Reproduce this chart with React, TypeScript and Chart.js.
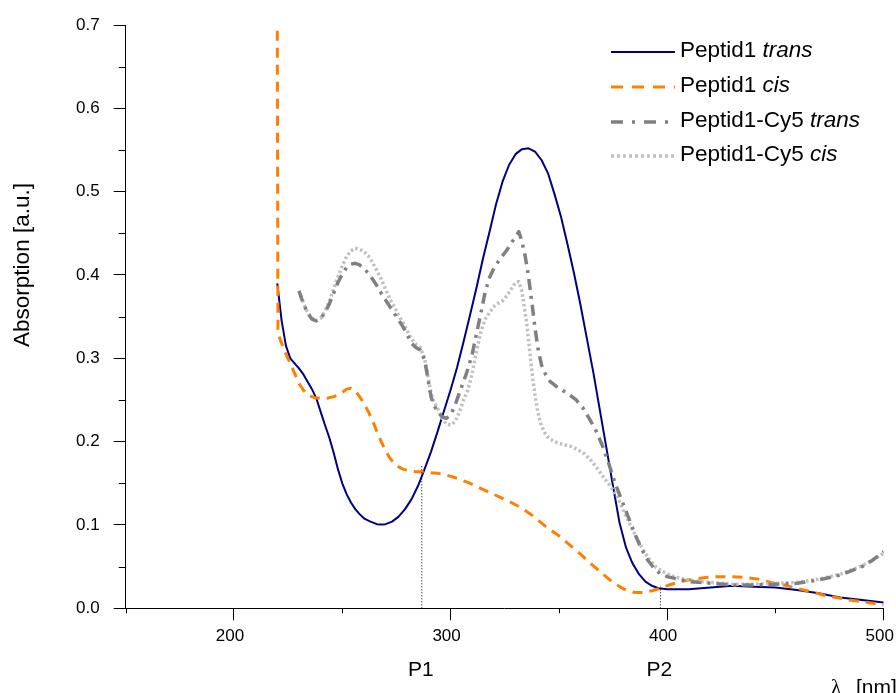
import React, { useEffect, useRef } from 'react';
import { Chart, registerables } from 'chart.js';

Chart.register(...registerables);

// ---------- data ----------
const transLambda = [220, 222, 224, 226, 228, 230, 232, 234, 236, 238, 240, 242, 244, 246, 248, 250, 252, 254, 256, 258, 260, 263, 266, 268, 270, 273, 276, 279, 282, 285, 288, 291, 294, 297, 300, 303, 306, 309, 312, 315, 318, 321, 324, 327, 330, 333, 336, 339, 342, 345, 348, 351, 354, 357, 360, 363, 366, 369, 372, 375, 378, 381, 384, 387, 390, 393, 396, 400, 410, 420, 430, 440, 450, 460, 470, 480, 490, 500];
const transAbs = [0.39, 0.345, 0.315, 0.300, 0.294, 0.288, 0.281, 0.272, 0.263, 0.252, 0.236, 0.220, 0.205, 0.187, 0.167, 0.150, 0.137, 0.127, 0.119, 0.113, 0.108, 0.104, 0.101, 0.1005, 0.101, 0.104, 0.110, 0.119, 0.131, 0.147, 0.167, 0.188, 0.212, 0.237, 0.262, 0.289, 0.320, 0.352, 0.385, 0.420, 0.452, 0.485, 0.512, 0.532, 0.545, 0.551, 0.552, 0.548, 0.538, 0.522, 0.497, 0.470, 0.437, 0.402, 0.364, 0.323, 0.282, 0.237, 0.192, 0.147, 0.103, 0.073, 0.054, 0.041, 0.032, 0.027, 0.024, 0.023, 0.023, 0.025, 0.027, 0.026, 0.025, 0.022, 0.018, 0.013, 0.010, 0.007];

const cisLambda = [220, 220.3, 222, 224, 226, 228, 230, 232, 234, 237, 240, 243, 246, 249, 252, 254, 256, 258, 260, 262, 264, 266, 268, 270, 272, 275, 278, 281, 284, 287, 290, 294, 298, 303, 308, 313, 318, 323, 328, 333, 338, 344, 350, 355, 360, 365, 370, 375, 380, 385, 389, 393, 397, 401, 406, 412, 418, 424, 430, 436, 442, 448, 454, 460, 466, 472, 478, 484, 490, 495, 500];
const cisAbs = [0.693, 0.33, 0.318, 0.305, 0.294, 0.282, 0.270, 0.262, 0.256, 0.253, 0.252, 0.252, 0.254, 0.257, 0.263, 0.264, 0.261, 0.254, 0.246, 0.236, 0.225, 0.212, 0.200, 0.189, 0.180, 0.171, 0.167, 0.165, 0.164, 0.164, 0.163, 0.162, 0.160, 0.156, 0.151, 0.145, 0.139, 0.133, 0.127, 0.120, 0.111, 0.098, 0.087, 0.076, 0.065, 0.053, 0.042, 0.031, 0.023, 0.019, 0.019, 0.021, 0.024, 0.028, 0.032, 0.035, 0.037, 0.038, 0.038, 0.037, 0.035, 0.031, 0.028, 0.024, 0.020, 0.016, 0.013, 0.010, 0.008, 0.006, 0.004];

const cy5TransLambda = [230, 232, 234, 236, 238, 240, 242, 244, 246, 248, 250, 252, 254, 256, 258, 260, 262, 264, 266, 268, 270, 272, 274, 276, 278, 280, 282, 284, 286, 288, 289, 290, 291, 292, 294, 296, 298, 300, 302, 304, 306, 308, 310, 312, 314, 316, 318, 320, 322, 324, 326, 328, 330, 331.5, 333, 334.5, 336, 337.5, 339, 340.5, 342, 344, 346, 348, 350, 352, 355, 358, 361, 364, 367, 370, 373, 376, 379, 382, 385, 388, 391, 394, 397, 400, 405, 410, 420, 430, 440, 450, 460, 470, 480, 490, 495, 500];
const cy5TransAbs = [0.381, 0.366, 0.354, 0.347, 0.345, 0.348, 0.355, 0.365, 0.378, 0.391, 0.401, 0.409, 0.413, 0.414, 0.412, 0.408, 0.402, 0.395, 0.387, 0.378, 0.370, 0.362, 0.354, 0.346, 0.338, 0.328, 0.318, 0.313, 0.310, 0.298, 0.284, 0.268, 0.254, 0.245, 0.236, 0.230, 0.228, 0.232, 0.243, 0.258, 0.272, 0.287, 0.305, 0.330, 0.354, 0.380, 0.397, 0.408, 0.416, 0.423, 0.430, 0.438, 0.446, 0.452, 0.440, 0.422, 0.398, 0.368, 0.336, 0.310, 0.292, 0.280, 0.272, 0.268, 0.264, 0.261, 0.256, 0.250, 0.241, 0.228, 0.214, 0.196, 0.174, 0.150, 0.130, 0.110, 0.090, 0.072, 0.058, 0.048, 0.041, 0.038, 0.035, 0.032, 0.030, 0.028, 0.028, 0.029, 0.030, 0.034, 0.040, 0.050, 0.058, 0.068];

const cy5CisLambda = [230, 232, 234, 236, 238, 240, 242, 244, 246, 248, 250, 252, 254, 256, 258, 260, 262, 264, 266, 268, 270, 272, 274, 276, 278, 280, 282, 284, 286, 288, 289, 290, 291, 292, 294, 296, 298, 300, 302, 304, 306, 308, 310, 312, 314, 316, 318, 320, 322, 324, 326, 328, 330, 331.5, 333, 334, 335, 336, 337, 338, 339, 340, 341, 342, 344, 346, 348, 350, 353, 356, 359, 362, 365, 368, 371, 374, 377, 380, 383, 386, 389, 392, 395, 398, 402, 406, 412, 420, 430, 440, 450, 460, 470, 480, 490, 495, 500];
const cy5CisAbs = [0.381, 0.367, 0.355, 0.348, 0.345, 0.348, 0.356, 0.368, 0.383, 0.398, 0.411, 0.422, 0.429, 0.432, 0.431, 0.428, 0.423, 0.415, 0.405, 0.395, 0.383, 0.371, 0.362, 0.352, 0.343, 0.333, 0.323, 0.317, 0.313, 0.300, 0.287, 0.272, 0.258, 0.250, 0.240, 0.229, 0.221, 0.220, 0.224, 0.235, 0.250, 0.262, 0.282, 0.309, 0.332, 0.347, 0.355, 0.362, 0.366, 0.369, 0.375, 0.383, 0.391, 0.392, 0.380, 0.362, 0.345, 0.322, 0.298, 0.275, 0.256, 0.240, 0.228, 0.219, 0.208, 0.203, 0.200, 0.198, 0.196, 0.194, 0.190, 0.185, 0.177, 0.167, 0.156, 0.146, 0.134, 0.116, 0.100, 0.084, 0.070, 0.058, 0.049, 0.044, 0.039, 0.036, 0.033, 0.031, 0.029, 0.029, 0.030, 0.031, 0.035, 0.041, 0.051, 0.058, 0.066];

// isosbestic markers
const markerLabels = ['P1', 'P2'];
const markerLambda = [286.7, 396.9];
const markerAbs = [0.172, 0.026];

// axes ticks
const xMajorTicks = [200, 300, 400, 500];
const xMinorTicks = [150, 250, 350, 450];
const yMajorTicks = [0, 0.1, 0.2, 0.3, 0.4, 0.5, 0.6, 0.7];
const yMinorTicks = [0.05, 0.15, 0.25, 0.35, 0.45, 0.55, 0.65];

const seriesNames = ['Peptid1', 'Peptid1', 'Peptid1-Cy5', 'Peptid1-Cy5'];
const seriesForms = ['trans', 'cis', 'trans', 'cis'];

const FONT = "'Liberation Sans', Arial, sans-serif";

const toPoints = (xs: number[], ys: number[]) => xs.map((x, i) => ({ x, y: ys[i] }));

const decorPlugin = {
  id: 'decor',
  afterDraw(chart: any) {
    const { ctx, chartArea } = chart;
    const x = chart.scales.x;
    const y = chart.scales.y;
    ctx.save();
    // minor ticks
    ctx.strokeStyle = '#000';
    ctx.lineWidth = 1;
    xMinorTicks.forEach((v) => {
      const px = Math.round(x.getPixelForValue(v)) + 0.5;
      ctx.beginPath();
      ctx.moveTo(px, chartArea.bottom);
      ctx.lineTo(px, chartArea.bottom + 5);
      ctx.stroke();
    });
    yMinorTicks.forEach((v) => {
      const py = Math.round(y.getPixelForValue(v)) + 0.5;
      ctx.beginPath();
      ctx.moveTo(chartArea.left - 7, py);
      ctx.lineTo(chartArea.left, py);
      ctx.stroke();
    });

    // y title
    ctx.fillStyle = '#000';
    ctx.font = `22.5px ${FONT}`;
    ctx.save();
    ctx.translate(23, 265);
    ctx.rotate(-Math.PI / 2);
    ctx.textAlign = 'center';
    ctx.textBaseline = 'middle';
    ctx.fillText('Absorption [a.u.]', 0, 0);
    ctx.restore();

    // x title
    ctx.textAlign = 'left';
    ctx.textBaseline = 'alphabetic';
    ctx.font = `21px 'Liberation Serif', serif`;
    ctx.fillText('λ', 831, 694);
    ctx.font = `21px ${FONT}`;
    ctx.fillText('[nm]', 856, 694);

    // marker labels
    ctx.textAlign = 'center';
    markerLabels.forEach((lab, i) => {
      ctx.fillText(lab, x.getPixelForValue(markerLambda[i]) - 1, 676);
    });

    // legend
    const lx0 = 611;
    const lx1 = 675;
    const ys = [52, 87, 122, 156];
    chart.data.datasets.slice(0, 4).forEach((ds: any, i: number) => {
      const ly = ys[i];
      ctx.save();
      ctx.strokeStyle = ds.borderColor;
      ctx.lineWidth = ds.borderWidth;
      ctx.setLineDash(ds.legendDash || []);
      ctx.beginPath();
      ctx.moveTo(lx0, ly);
      ctx.lineTo(lx1, ly);
      ctx.stroke();
      ctx.restore();
      ctx.textAlign = 'left';
      ctx.textBaseline = 'alphabetic';
      ctx.font = `22.5px ${FONT}`;
      const base = seriesNames[i] + ' ';
      ctx.fillText(base, 680, ly + 5);
      const w = ctx.measureText(base).width;
      ctx.font = `italic 22.5px ${FONT}`;
      ctx.fillText(seriesForms[i], 680 + w, ly + 5);
    });
    ctx.restore();
  },
};

export default function App() {
  const canvasRef = useRef<HTMLCanvasElement | null>(null);

  useEffect(() => {
    if (!canvasRef.current) return;
    const markerDatasets = markerLambda.map((lam, i) => ({
      label: markerLabels[i],
      data: [
        { x: lam, y: 0 },
        { x: lam, y: markerAbs[i] },
      ],
      borderColor: '#000',
      borderWidth: 1,
      borderDash: [1, 2],
      pointRadius: 0,
      fill: false,
    }));
    const chart = new Chart(canvasRef.current, {
      type: 'line',
      data: {
        datasets: [
          {
            label: 'Peptid1 trans',
            data: toPoints(transLambda, transAbs),
            borderColor: '#000080',
            borderWidth: 2,
            pointRadius: 0,
            legendDash: [],
            order: 4,
          } as any,
          {
            label: 'Peptid1 cis',
            data: toPoints(cisLambda, cisAbs),
            borderColor: '#FF8000',
            borderWidth: 3,
            borderDash: [10, 7],
            legendDash: [12, 9],
            pointRadius: 0,
            order: 3,
          },
          {
            label: 'Peptid1-Cy5 trans',
            data: toPoints(cy5TransLambda, cy5TransAbs),
            borderColor: '#808080',
            borderWidth: 3.5,
            borderDash: [11, 6, 3, 6],
            legendDash: [12, 9, 3, 9],
            pointRadius: 0,
            order: 1,
          },
          {
            label: 'Peptid1-Cy5 cis',
            data: toPoints(cy5CisLambda, cy5CisAbs),
            borderColor: '#C0C0C0',
            borderWidth: 3.5,
            borderDash: [2.5, 2.5],
            legendDash: [3, 3],
            pointRadius: 0,
            order: 2,
          },
          ...markerDatasets,
        ],
      },
      options: {
        animation: false,
        responsive: false,
        devicePixelRatio: 1,
        layout: { padding: { left: 0, top: 25, right: 12.3, bottom: 0 } },
        plugins: { legend: { display: false }, tooltip: { enabled: false } },
        elements: { line: { tension: 0, borderJoinStyle: 'round' } },
        scales: {
          x: {
            type: 'linear',
            min: 150,
            max: 500,
            afterBuildTicks: (axis: any) => {
              axis.ticks = xMajorTicks.map((v) => ({ value: v }));
            },
            afterFit: (axis: any) => {
              axis.height = 84.7;
              axis.paddingLeft = 0;
              axis.paddingRight = 0;
            },
            ticks: {
              color: '#000',
              font: { family: FONT, size: 17 },
              padding: 6,
              labelOffset: -4,
              maxRotation: 0,
              autoSkip: false,
              callback: (v: any) => String(v),
            },
            grid: { display: true, drawOnChartArea: false, drawTicks: true, tickLength: 12, color: '#000', tickWidth: 1 },
            border: { display: true, color: '#000', width: 1 },
          },
          y: {
            type: 'linear',
            min: 0,
            max: 0.7,
            afterBuildTicks: (axis: any) => {
              axis.ticks = yMajorTicks.map((v) => ({ value: v }));
            },
            afterFit: (axis: any) => {
              axis.width = 125.7;
              axis.paddingTop = 0;
              axis.paddingBottom = 0;
            },
            ticks: {
              color: '#000',
              font: { family: FONT, size: 17 },
              padding: 14,
              autoSkip: false,
              callback: (v: any) => Number(v).toFixed(1),
            },
            grid: { display: true, drawOnChartArea: false, drawTicks: true, tickLength: 12, color: '#000', tickWidth: 1 },
            border: { display: true, color: '#000', width: 1 },
          },
        },
      } as any,
      plugins: [decorPlugin],
    });
    return () => chart.destroy();
  }, []);

  return (
    <div style={{ position: 'absolute', left: 0, top: 0, width: 896, height: 693, background: '#fff' }}>
      <canvas ref={canvasRef} width={896} height={693} style={{ width: 896, height: 693, display: 'block' }} />
    </div>
  );
}
